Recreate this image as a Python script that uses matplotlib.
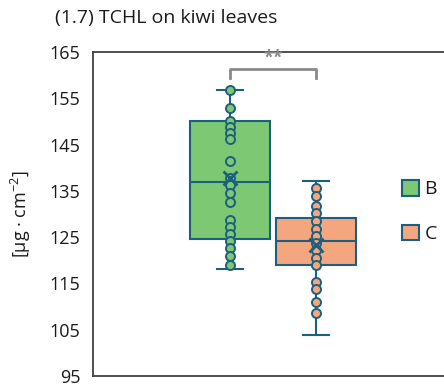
import numpy as np
import matplotlib
matplotlib.use('Agg')
import matplotlib.pyplot as plt
from matplotlib.patches import Patch

plt.rcParams['font.family'] = ['Open Sans', 'DejaVu Sans']
plt.rcParams['mathtext.default'] = 'regular'

# values
groups = ['B', 'C']
points_b = [156.7, 153.0, 150.1, 148.8, 147.5, 146.2, 141.5, 137.7, 136.2,
            134.5, 132.6, 128.7, 127.2, 125.7, 124.2, 122.7, 121.0, 118.9]
points_c = [135.6, 133.8, 131.7, 130.2, 128.5, 126.8, 125.3, 123.8, 122.3,
            120.6, 118.9, 115.3, 113.8, 111.0, 108.7]
whis_low = [118.1, 103.9]
q1 = [124.7, 118.9]
median = [137.0, 124.2]
q3 = [150.0, 129.2]
whis_high = [156.7, 137.1]
means = [137.7, 123.3]
yticks = [95, 105, 115, 125, 135, 145, 155, 165]

EDGE = '#1d5f7e'
FILLS = ['#7dc872', '#f4a77f']
GREY = '#8a8a8a'
TXT = '#1a1a1a'

fig = plt.figure(figsize=(4.44, 3.87), dpi=100)
ax = fig.add_axes([93/444, 11/387, (475-93)/444, 324/387])

pos = [1, 2]
stats = []
for i in range(2):
    stats.append(dict(whislo=whis_low[i], q1=q1[i], med=median[i], q3=q3[i],
                      whishi=whis_high[i], mean=means[i], fliers=[]))
bp = ax.bxp(stats, positions=pos, widths=0.93, patch_artist=True,
            showmeans=False, manage_ticks=False,
            boxprops=dict(edgecolor=EDGE, linewidth=1.5),
            medianprops=dict(color=EDGE, linewidth=1.5),
            whiskerprops=dict(color=EDGE, linewidth=1.5),
            capprops=dict(color=EDGE, linewidth=1.5),
            capwidths=0.3)
for patch, c in zip(bp['boxes'], FILLS):
    patch.set_facecolor(c)

for i, pts in enumerate([points_b, points_c]):
    ax.plot([pos[i]] * len(pts), pts, 'o', ms=6.5, mfc=FILLS[i], mec=EDGE,
            mew=1.4, zorder=4)
    ax.plot(pos[i], means[i], 'x', ms=10, mec=EDGE, mew=2, zorder=5)

# significance bracket
ax.plot([1, 1, 2, 2], [159.3, 161.4, 161.4, 159.3], color=GREY, lw=2,
        clip_on=False)
ax.text(1.5, 161.9, '**', ha='center', va='bottom', color=GREY,
        fontsize=13, fontweight='bold')

ax.set_xlim(-0.593, 1 + (475 - 230) / 86)
ax.set_ylim(95, 165)
ax.set_yticks(yticks)
ax.set_xticks([])
ax.tick_params(axis='y', length=0, pad=9, labelsize=13, colors=TXT)
for s in ['left', 'bottom', 'top']:
    ax.spines[s].set_color('#404040')
    ax.spines[s].set_linewidth(1.3)
ax.spines['right'].set_visible(False)

ax.set_ylabel(r'[µg · cm$^{-2}$]', fontsize=13, labelpad=12, color=TXT)
fig.text(55/444, 1 - 18/387, '(1.7) TCHL on kiwi leaves', fontsize=14,
         va='center', ha='left', color=TXT)

handles = [Patch(facecolor=FILLS[i], edgecolor=EDGE, lw=1.5) for i in range(2)]
fig.legend(handles, groups, loc='upper left', bbox_to_anchor=(402/444, 1 - 180/387),
           frameon=False, fontsize=14, handlelength=0.85, handleheight=0.85,
           handletextpad=0.3, labelspacing=1.35, borderaxespad=0, borderpad=0,
           labelcolor=TXT)

fig.savefig('out.png', dpi=100)
